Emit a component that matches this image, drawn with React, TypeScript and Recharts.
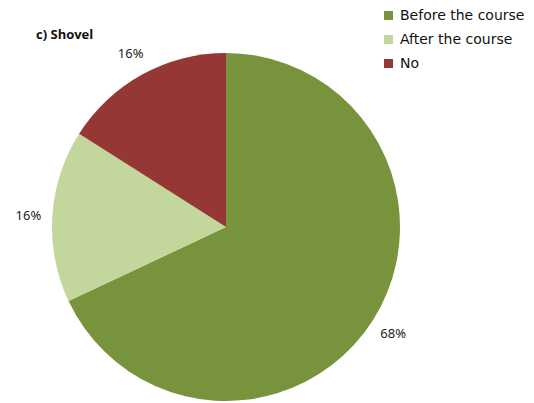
import React from "react";
import { PieChart, Pie, Cell, Legend } from "recharts";

const categories = ["Before the course", "After the course", "No"];
const values = [68, 16, 16];
const colors = ["#77933C", "#C3D69B", "#953735"];

const data = categories.map((name, i) => ({ name, value: values[i] }));

const RADIAN = Math.PI / 180;

const renderLabel = (props: any) => {
  const { cx, cy, midAngle, outerRadius, value } = props;
  const r = outerRadius + 24;
  const x = cx + r * Math.cos(-midAngle * RADIAN);
  const y = cy + r * Math.sin(-midAngle * RADIAN);
  return (
    <text
      x={x}
      y={y}
      textAnchor="middle"
      dominantBaseline="central"
      fontSize={13}
      fontFamily="'Noto Sans', sans-serif"
      fill="#222"
    >
      {`${value}%`}
    </text>
  );
};

const renderLegend = () => (
  <div style={{ fontFamily: "'DejaVu Sans', sans-serif", fontSize: 14, color: "#111" }}>
    {categories.map((c, i) => (
      <div key={c} style={{ display: "flex", alignItems: "center", height: 24 }}>
        <span
          style={{
            display: "inline-block",
            width: 9,
            height: 9,
            background: colors[i],
            marginRight: 7,
          }}
        />
        <span>{c}</span>
      </div>
    ))}
  </div>
);

export default function App() {
  return (
    <div style={{ position: "absolute", top: 0, left: 0, width: 534, height: 403, background: "#fff" }}>
      <div
        style={{
          position: "absolute",
          left: 36,
          top: 25,
          fontFamily: "'Open Sans', sans-serif",
          fontWeight: 700,
          fontSize: 13,
          color: "#111",
        }}
      >
        c) Shovel
      </div>
      <PieChart width={534} height={403} margin={{ top: 0, right: 0, bottom: 0, left: 0 }}>
        <Pie
          data={data}
          dataKey="value"
          nameKey="name"
          cx={226}
          cy={227}
          outerRadius={174}
          startAngle={90}
          endAngle={-270}
          stroke="none"
          label={renderLabel}
          labelLine={false}
          isAnimationActive={false}
        >
          {data.map((d, i) => (
            <Cell key={d.name} fill={colors[i]} />
          ))}
        </Pie>
        <Legend
          content={renderLegend}
          layout="vertical"
          wrapperStyle={{ position: "absolute", left: 384, top: 3, width: 150 }}
        />
      </PieChart>
    </div>
  );
}
